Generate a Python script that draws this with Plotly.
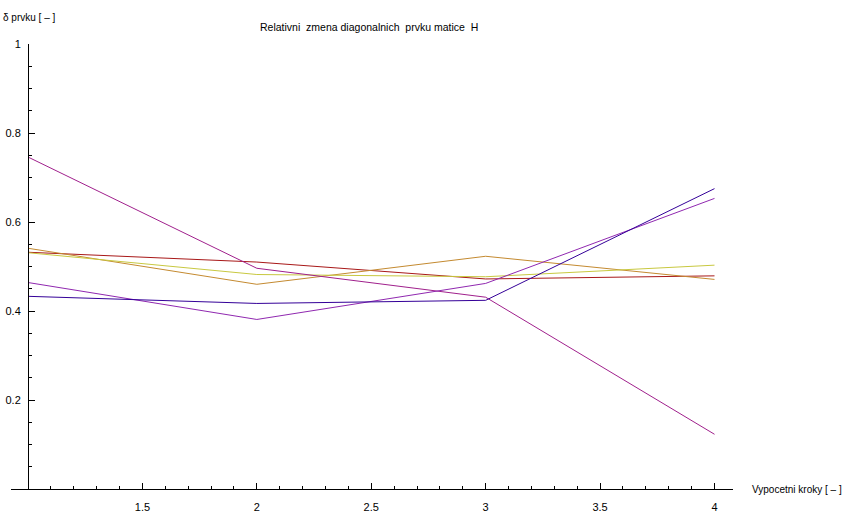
import plotly.graph_objects as go

steps = [1, 2, 3, 4]
s_magenta = [0.746, 0.496, 0.431, 0.123]
s_red = [0.532, 0.510, 0.472, 0.479]
s_orange = [0.541, 0.460, 0.523, 0.471]
s_yellow = [0.531, 0.482, 0.477, 0.503]
s_purple = [0.464, 0.381, 0.462, 0.653]
s_blue = [0.433, 0.417, 0.424, 0.675]

series = [
    (s_red, "#A81818"),
    (s_orange, "#C48A30"),
    (s_yellow, "#C8C840"),
    (s_magenta, "#A0208C"),
    (s_purple, "#9028B0"),
    (s_blue, "#340098"),
]

x_ticks = [1.5, 2, 2.5, 3, 3.5, 4]
x_ticktext = ["1.5", "2", "2.5", "3", "3.5", "4"]
y_ticks = [0.2, 0.4, 0.6, 0.8, 1.0]
y_ticktext = ["0.2", "0.4", "0.6", "0.8", "1"]

fig = go.Figure()
for vals, col in series:
    fig.add_trace(go.Scatter(x=steps, y=vals, mode="lines",
                             line=dict(color=col, width=1), showlegend=False,
                             hoverinfo="skip"))

W, H = 850, 525
L, R, T, B = 11, 117, 44, 36
px_x1 = 28.0
px_x4 = 714.5
unit = (px_x4 - px_x1) / 3
xr0 = 1 - (px_x1 - L) / unit
xr1 = 4 + ((W - R) - px_x4) / unit
ypos = (px_x1 - L) / (W - L - R)

font = dict(family="Liberation Sans, Arial, sans-serif", size=11, color="black")
font_small = dict(family="Liberation Sans, Arial, sans-serif", size=10, color="black")
font_title = dict(family="Liberation Sans, Arial, sans-serif", size=10.5, color="black")

fig.update_layout(
    width=W, height=H,
    margin=dict(l=L, r=R, t=T, b=B, pad=0, autoexpand=False),
    plot_bgcolor="white", paper_bgcolor="white",
    font=font,
    xaxis=dict(range=[xr0, xr1], showgrid=False, zeroline=False,
               showline=True, linecolor="black", linewidth=1,
               automargin=False,
               tickmode="array", tickvals=x_ticks, ticktext=x_ticktext,
               ticks="inside", ticklen=6, tickcolor="black", tickwidth=1,
               ticklabelstandoff=8,
               minor=dict(tickmode="linear", tick0=1, dtick=0.1, ticks="inside",
                          ticklen=3, tickcolor="black", tickwidth=1, showgrid=False),
               tickfont=font, fixedrange=True),
    yaxis=dict(range=[0, 1], showgrid=False, zeroline=False,
               showline=True, linecolor="black", linewidth=1,
               automargin=False,
               anchor="free", position=ypos,
               tickmode="array", tickvals=y_ticks, ticktext=y_ticktext,
               ticks="inside", ticklen=6, tickcolor="black", tickwidth=1,
               ticklabelstandoff=5,
               minor=dict(tickmode="linear", tick0=0, dtick=0.05, ticks="inside",
                          ticklen=3, tickcolor="black", tickwidth=1, showgrid=False),
               tickfont=font, fixedrange=True),
    annotations=[
        dict(text="Relativni\u00a0 zmena diagonalnich\u00a0 prvku matice\u00a0 H",
             xref="paper", yref="paper", x=(369 - L) / (W - L - R), y=1 + (T - 27) / (H - T - B),
             xanchor="center", yanchor="middle", showarrow=False, font=font_title),
        dict(text="δ prvku [ – ]", xref="paper", yref="paper",
             x=(1 - L) / (W - L - R), y=1 + (T - 18) / (H - T - B),
             xanchor="left", yanchor="middle", showarrow=False, font=font_small),
        dict(text="Vypocetni kroky [ – ]", xref="paper", yref="paper",
             x=(750 - L) / (W - L - R), y=0,
             xanchor="left", yanchor="middle", showarrow=False, font=font_small),
    ],
)

fig.write_html("out.html")
